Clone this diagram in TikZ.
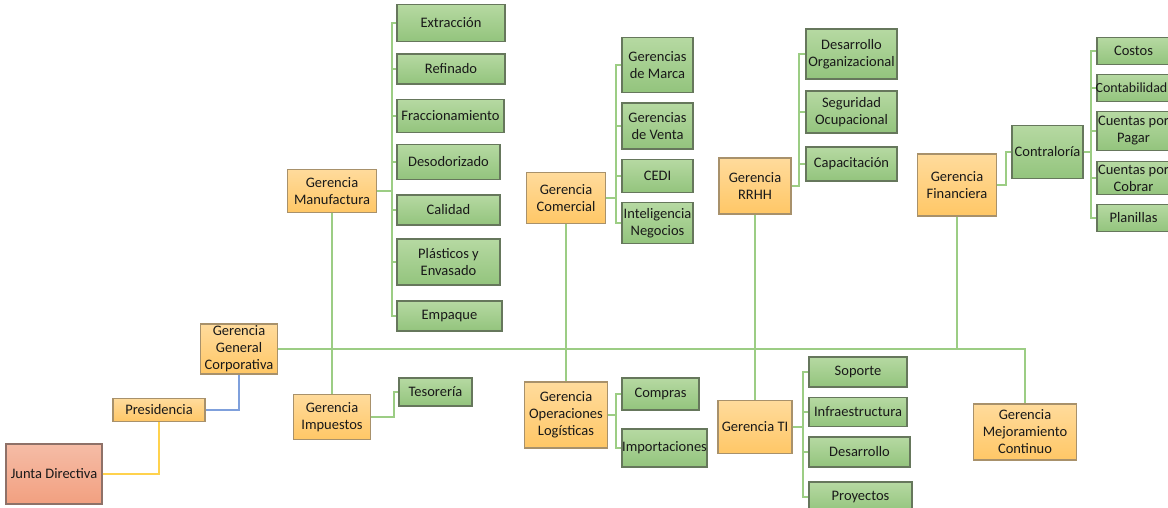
\documentclass[tikz,border=0pt]{standalone}
\usepackage{fontspec}
\setmainfont{Carlito}
\begin{document}
\begin{tikzpicture}[x=1pt,y=-1pt,
  base/.style={draw, line width=1.1pt, inner sep=0pt, align=center, text=black!90,
    font=\fontsize{14.5}{17}\selectfont},
  obox/.style={base, draw=orgB, top color=orgT, bottom color=orgD},
  gbox/.style={base, draw=grnB, top color=grnT, bottom color=grnD},
  jbox/.style={base, draw=junB, top color=junT, bottom color=junD},
  conn/.style={draw=lineG, line width=2pt},
  yconn/.style={draw=lineY, line width=2pt},
  bconn/.style={draw=lineB, line width=2pt}]
\definecolor{orgT}{HTML}{FFDB9C}
\definecolor{orgD}{HTML}{FFC766}
\definecolor{orgB}{HTML}{A8916B}
\definecolor{grnT}{HTML}{B6D9A2}
\definecolor{grnD}{HTML}{93C47D}
\definecolor{grnB}{HTML}{66775C}
\definecolor{junT}{HTML}{F5BCA6}
\definecolor{junD}{HTML}{F2A080}
\definecolor{junB}{HTML}{8E7168}
\definecolor{lineG}{HTML}{9CCD84}
\definecolor{lineY}{HTML}{FFD24D}
\definecolor{lineB}{HTML}{7FA0DC}
\useasboundingbox (0,0) rectangle (1168,508);
\clip (0,0) rectangle (1168,508);

% bracket x positions
\coordinate (brM) at (392,0);
\coordinate (brC) at (616,0);
\coordinate (brR) at (799,0);
\coordinate (brF) at (1006,0);
\coordinate (brK) at (1091,0);
\coordinate (brI) at (394,0);
\coordinate (brO) at (616,0);
\coordinate (brT) at (803,0);

% main nodes
\node[jbox, minimum width=96, minimum height=60] (junta) at (54,474) {Junta Directiva};
\node[obox, minimum width=92, minimum height=23] (pres) at (159,410) {Presidencia};
\node[obox, minimum width=77, minimum height=50] (ggc) at (239,349) {Gerencia\\General\\Corporativa};
\node[obox, minimum width=89, minimum height=43] (manu) at (332,191) {Gerencia\\Manufactura};
\node[obox, minimum width=79, minimum height=51] (come) at (566,198) {Gerencia\\Comercial};
\node[obox, minimum width=72, minimum height=56] (rrhh) at (755,186) {Gerencia\\RRHH};
\node[obox, minimum width=79, minimum height=62] (fina) at (957,185) {Gerencia\\Financiera};
\node[obox, minimum width=77, minimum height=45] (impu) at (332,417) {Gerencia\\Impuestos};
\node[obox, minimum width=83, minimum height=66] (oper) at (566,415) {Gerencia\\Operaciones\\Logísticas};
\node[obox, minimum width=74, minimum height=53] (ti) at (755,427) {Gerencia TI};
\node[obox, minimum width=103, minimum height=56] (mejo) at (1025,432) {Gerencia\\Mejoramiento\\Continuo};

% Manufactura children
\node[gbox, minimum width=108, minimum height=37] (extr) at (451,23) {Extracción};
\node[gbox, minimum width=108, minimum height=30] (refi) at (451,69) {Refinado};
\node[gbox, minimum width=107, minimum height=33] (frac) at (450.5,116) {Fraccionamiento};
\node[gbox, minimum width=103, minimum height=35] (deso) at (448.5,162) {Desodorizado};
\node[gbox, minimum width=103, minimum height=30] (cali) at (448.5,210) {Calidad};
\node[gbox, minimum width=103, minimum height=46] (plas) at (448.5,262) {Plásticos y\\Envasado};
\node[gbox, minimum width=105, minimum height=30] (empa) at (449.5,316) {Empaque};

% Comercial children
\node[gbox, minimum width=71, minimum height=55] (marca) at (657.5,65) {Gerencias\\de Marca};
\node[gbox, minimum width=71, minimum height=46] (venta) at (657.5,126) {Gerencias\\de Venta};
\node[gbox, minimum width=71, minimum height=33] (cedi) at (657.5,176) {CEDI};
\node[gbox, minimum width=71, minimum height=41] (intel) at (657.5,223) {Inteligencia\\Negocios};

% RRHH children
\node[gbox, minimum width=91, minimum height=50] (desorg) at (851.5,54) {Desarrollo\\Organizacional};
\node[gbox, minimum width=91, minimum height=42] (segu) at (851.5,112) {Seguridad\\Ocupacional};
\node[gbox, minimum width=91, minimum height=34] (capa) at (851.5,164) {Capacitación};

% Financiera
\node[gbox, minimum width=71, minimum height=53] (contra) at (1047.5,152) {Contraloría};
\node[gbox, minimum width=73, minimum height=27] (costos) at (1133.5,51) {Costos};
\node[gbox, minimum width=73, minimum height=27, font=\fontsize{14}{17}\selectfont] (conta) at (1133.5,88) {\hspace*{-4pt}Contabilidad};
\node[gbox, minimum width=73, minimum height=39] (cpag) at (1133.5,131) {Cuentas por\\Pagar};
\node[gbox, minimum width=73, minimum height=33] (ccob) at (1133.5,178) {Cuentas por\\Cobrar};
\node[gbox, minimum width=73, minimum height=27] (plan) at (1133.5,218) {Planillas};

% Impuestos child
\node[gbox, minimum width=73, minimum height=28] (teso) at (435.5,392) {Tesorería};

% Operaciones children
\node[gbox, minimum width=77, minimum height=32] (compras) at (660.5,394) {Compras};
\node[gbox, minimum width=85, minimum height=38] (impo) at (664.5,448) {Importaciones};

% TI children
\node[gbox, minimum width=98, minimum height=30] (sopo) at (858,372) {Soporte};
\node[gbox, minimum width=98, minimum height=29] (infra) at (858,412) {Infraestructura};
\node[gbox, minimum width=101, minimum height=30] (desa) at (859.5,452) {Desarrollo};
\node[gbox, minimum width=103, minimum height=30] (proy) at (860.5,497) {Proyectos};

% top-level connectors
\draw[yconn] (junta.east) -| (pres.south);
\draw[bconn] (pres.east) -| (ggc.south);
\draw[conn] (ggc.east) -| (mejo.north);
\draw[conn] (manu.south) -- (impu.north);
\draw[conn] (come.south) -- (oper.north);
\draw[conn] (rrhh.south) -- (ti.north);
\draw[conn] (fina.south) -- (fina.south |- ggc.east);

% forks
\foreach \c in {extr,refi,frac,deso,cali,plas,empa}
  \draw[conn] (manu.east) -| (brM |- \c.west) -- (\c.west);
\foreach \c in {marca,venta,cedi,intel}
  \draw[conn] (come.east) -| (brC |- \c.west) -- (\c.west);
\foreach \c in {desorg,segu,capa}
  \draw[conn] (rrhh.east) -| (brR |- \c.west) -- (\c.west);
\draw[conn] (fina.east) -| (brF |- contra.west) -- (contra.west);
\foreach \c in {costos,conta,cpag,ccob,plan}
  \draw[conn] (contra.east) -| (brK |- \c.west) -- (\c.west);
\draw[conn] (impu.east) -| (brI |- teso.west) -- (teso.west);
\foreach \c in {compras,impo}
  \draw[conn] (oper.east) -| (brO |- \c.west) -- (\c.west);
\foreach \c in {sopo,infra,desa,proy}
  \draw[conn] (ti.east) -| (brT |- \c.west) -- (\c.west);
\end{tikzpicture}
\end{document}
